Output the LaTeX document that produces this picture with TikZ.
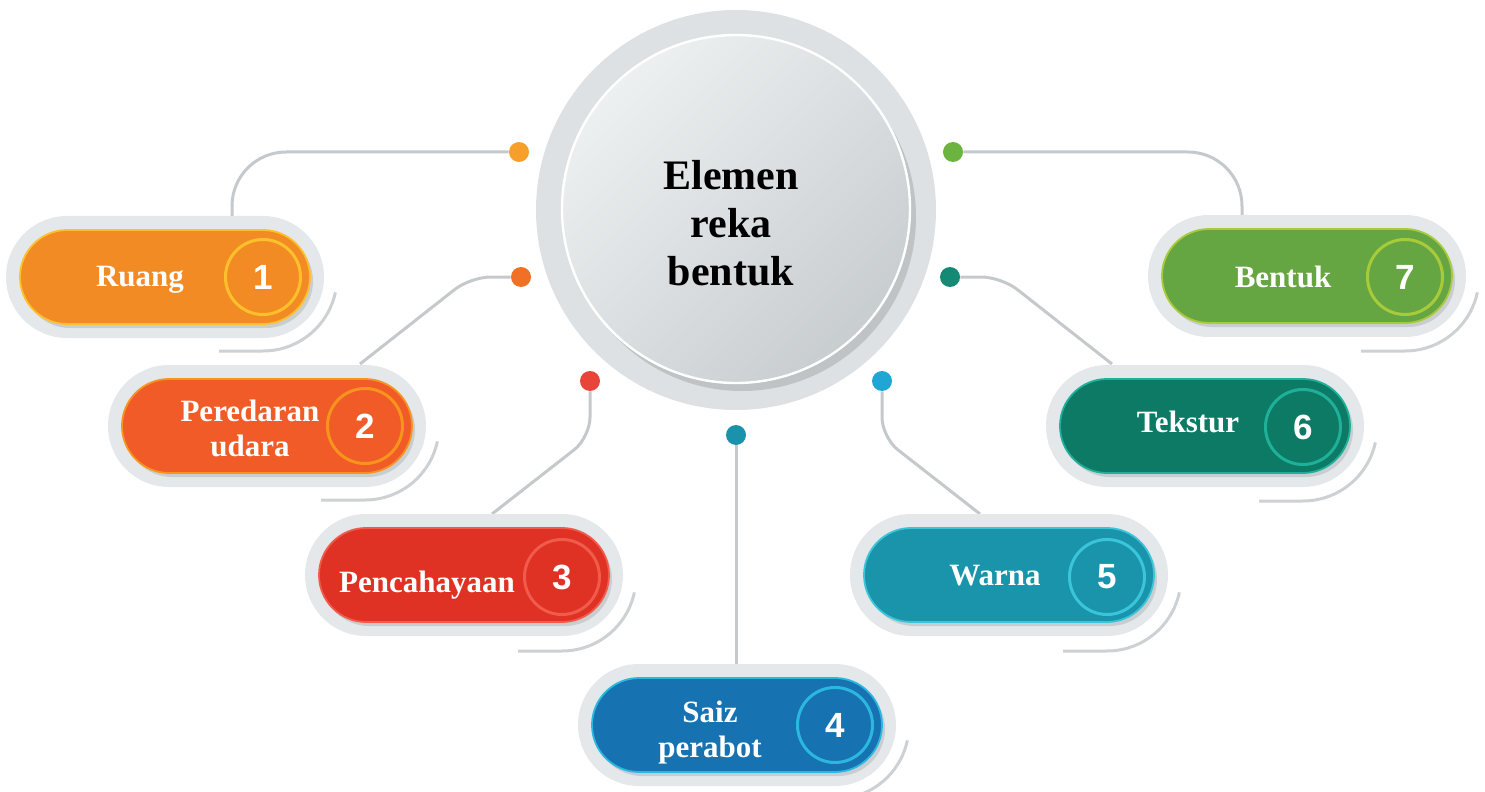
\documentclass[tikz,border=0pt]{standalone}
\usepackage{fontspec}
\setmainfont{Liberation Serif}
\newfontfamily\numfont{Liberation Sans}
\usetikzlibrary{shadows}

\definecolor{ringgray}{HTML}{DDE1E4}
\definecolor{halogray}{HTML}{E4E8EB}
\definecolor{linkgray}{HTML}{C5C9CC}
\definecolor{arcgray}{HTML}{CDD1D4}
\definecolor{coreL}{HTML}{EDF0F1}
\definecolor{coreD}{HTML}{C8CDD0}
\definecolor{ruangC}{HTML}{F38B24}
\definecolor{ruangE}{HTML}{FCC02C}
\definecolor{udaraC}{HTML}{F15B27}
\definecolor{udaraE}{HTML}{F7941E}
\definecolor{cahayaC}{HTML}{E03125}
\definecolor{cahayaE}{HTML}{F05B4B}
\definecolor{saizC}{HTML}{1672B0}
\definecolor{saizE}{HTML}{2BB8E0}
\definecolor{warnaC}{HTML}{1A94AB}
\definecolor{warnaE}{HTML}{3AC5D9}
\definecolor{teksturC}{HTML}{0C7A65}
\definecolor{teksturE}{HTML}{1FB09A}
\definecolor{bentukC}{HTML}{66A642}
\definecolor{bentukE}{HTML}{A8CB3A}

\begin{document}
\begin{tikzpicture}[x=0.5pt, y=0.5pt,
	halo/.style={rectangle, rounded corners=30.5pt, minimum width=159pt, minimum height=61pt, inner sep=0pt, fill=halogray},
	pill/.style={rectangle, rounded corners=23.5pt, minimum width=145pt, minimum height=47pt, inner sep=0pt, line width=0.9pt,
		drop shadow={shadow xshift=1.5pt, shadow yshift=-2pt, opacity=0.25}},
	num/.style={circle, minimum size=37.5pt, inner sep=0pt, line width=1.5pt, text=white, font=\numfont\bfseries\fontsize{17.5}{20}\selectfont},
	lbl/.style={text=white, align=center, inner sep=0pt, font=\bfseries\fontsize{15.5}{17.5}\selectfont},
	dot/.style={circle, minimum size=10pt, inner sep=0pt},
	link/.style={linkgray, line width=1.5pt, rounded corners=10pt},
	arcline/.style={arcgray, line width=1.5pt}]
		% Marco
		\useasboundingbox (0,0) rectangle (1485,-792);

		% Circulo central
		\node[circle, fill=ringgray, minimum size=200pt, inner sep=0pt] (ring) at (736,-210) {};
		\node[circle, minimum size=174pt, inner sep=0pt, top color=coreL, bottom color=coreD, shading angle=45,
			draw=white, line width=1.2pt, drop shadow={shadow xshift=3pt, shadow yshift=-4pt, opacity=0.3}] (core) at (736,-209) {};
		\node[align=center, font=\bfseries\fontsize{21}{24}\selectfont] (title) at (731,-223) {Elemen\\reka\\bentuk};

		% Titik
		\node[dot, fill={rgb,255:red,246;green,160;blue,43}] (d1) at (519,-152) {};
		\node[dot, fill={rgb,255:red,240;green,112;blue,38}] (d2) at (521,-277) {};
		\node[dot, fill={rgb,255:red,232;green,68;blue,58}] (d3) at (590,-381) {};
		\node[dot, fill={rgb,255:red,26;green,146;blue,172}] (d4) at (736,-435) {};
		\node[dot, fill={rgb,255:red,32;green,166;blue,213}] (d5) at (882,-381) {};
		\node[dot, fill={rgb,255:red,20;green,138;blue,116}] (d6) at (950,-277) {};
		\node[dot, fill={rgb,255:red,109;green,179;blue,63}] (d7) at (953,-152) {};

		% Garis
		\coordinate (e1) at (232,-216);
		\coordinate (e2) at (360,-364);
		\coordinate (e3) at (492,-514);
		\coordinate (e4) at (736,-664);
		\coordinate (e5) at (980,-514);
		\coordinate (e6) at (1112,-364);
		\coordinate (e7) at (1242,-216);
		\draw[link, rounded corners=27pt] (d1.west) -| (e1);
		\draw[link] (d2.west) -- ++(-40,0) -- (e2);
		\draw[link] (d3.south) -- ++(0,-46) -- (e3);
		\draw[link] (d4.south) -- (e4);
		\draw[link] (d5.south) -- ++(0,-46) -- (e5);
		\draw[link] (d6.east) -- ++(41,0) -- (e6);
		\draw[link, rounded corners=27pt] (d7.east) -| (e7);

		% Latar kapsul
		\node[halo] (h1) at (165,-277) {};
		\node[halo] (h2) at (267,-426) {};
		\node[halo] (h3) at (464,-575) {};
		\node[halo] (h4) at (737,-725) {};
		\node[halo] (h5) at (1009,-575) {};
		\node[halo] (h6) at (1205,-426) {};
		\node[halo] (h7) at (1307,-276) {};

		% Kapsul
		\node[pill, fill=ruangC, draw=ruangE] (p1) at (165,-277) {};
		\node[pill, fill=udaraC, draw=udaraE] (p2) at (267,-426) {};
		\node[pill, fill=cahayaC, draw=cahayaE] (p3) at (464,-575) {};
		\node[pill, fill=saizC, draw=saizE] (p4) at (737,-725) {};
		\node[pill, fill=warnaC, draw=warnaE] (p5) at (1009,-575) {};
		\node[pill, fill=teksturC, draw=teksturE] (p6) at (1205,-426) {};
		\node[pill, fill=bentukC, draw=bentukE] (p7) at (1307,-276) {};

		% Nombor
		\node[num, draw=ruangE] (n1) at (263,-277) {1};
		\node[num, draw=udaraE] (n2) at (365,-426) {2};
		\node[num, draw=cahayaE] (n3) at (562,-577) {3};
		\node[num, draw=saizE] (n4) at (835,-725) {4};
		\node[num, draw=warnaE] (n5) at (1107,-577) {5};
		\node[num, draw=teksturE] (n6) at (1303,-427) {6};
		\node[num, draw=bentukE] (n7) at (1405,-277) {7};

		% Bayang lengkung
		\foreach \n in {1,...,7}
			\draw[arcline] ([shift={(-12:37pt)}]n\n.center) arc[start angle=-12, end angle=-90, radius=37pt] -- ++(-22pt,0);

		% Label
		\node[lbl, anchor=base] (t1) at (140,-286) {Ruang};
		\node[lbl] (t2) at (250,-428) {Peredaran\\udara};
		\node[lbl, anchor=base] (t3) at (427,-592) {Pencahayaan};
		\node[lbl] (t4) at (710,-733) {Saiz\\perabot};
		\node[lbl, anchor=base] (t5) at (995,-585) {Warna};
		\node[lbl, anchor=base] (t6) at (1188,-432) {Tekstur};
		\node[lbl, anchor=base] (t7) at (1283,-287) {Bentuk};
	\end{tikzpicture}
\end{document}
